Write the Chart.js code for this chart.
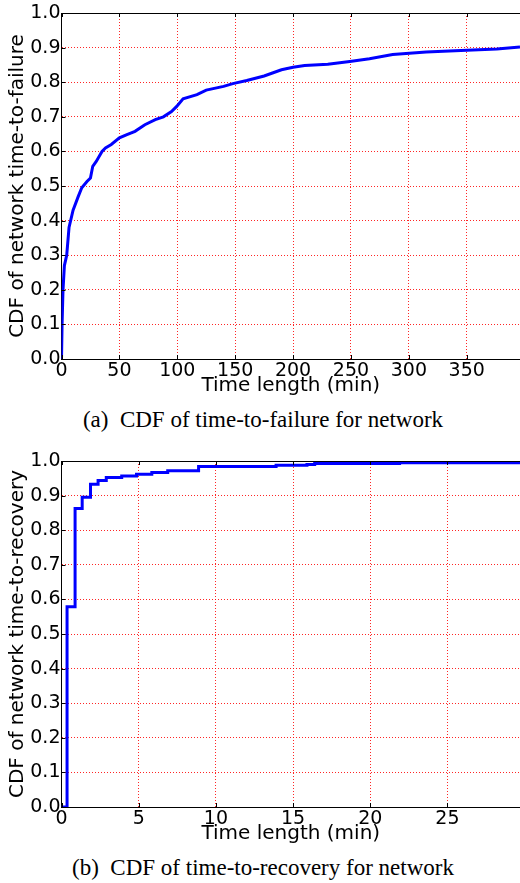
<!DOCTYPE html>
<html>
<head>
<meta charset="utf-8">
<script src="https://cdn.jsdelivr.net/npm/chart.js@4.4.0/dist/chart.umd.min.js"></script>
<style>
  body { margin: 0; background: #fff; width: 520px; height: 883px; position: relative; overflow: hidden; }
  .plot { position: absolute; left: 0; }
  .caption { position: absolute; left: 3px; width: 520px; text-align: center;
             font-family: "Liberation Serif", "Times New Roman", serif; font-size: 23px; line-height: 26px; color: #000; }
</style>
</head>
<body>
<canvas id="failure" class="plot" width="520" height="400" style="top:0px"></canvas>
<div class="caption" style="top:407px">(a)&nbsp; CDF of time-to-failure for network</div>
<canvas id="recovery" class="plot" width="520" height="400" style="top:448px"></canvas>
<div class="caption" style="top:855px">(b)&nbsp; CDF of time-to-recovery for network</div>

<script>
//--------------------- DATA ---------------------//
// (a) time-to-failure, minutes vs CDF
const failTime = [0, 0.5, 1.3, 2.5, 4.5, 6.5, 10, 14.5, 17.5, 22, 25, 27, 30, 35, 38, 43,
                  50, 56, 63.5, 72, 81, 88, 95, 99.5, 105, 117, 125, 140, 148, 160, 175, 190,
                  200, 210, 230, 249, 266, 286, 315, 350, 376, 396];
const failCdf  = [0, 0.10, 0.20, 0.27, 0.30, 0.38, 0.43, 0.47, 0.495, 0.513, 0.523, 0.557, 0.571, 0.60, 0.61, 0.62,
                  0.639, 0.648, 0.658, 0.677, 0.692, 0.70, 0.715, 0.73, 0.752, 0.764, 0.777, 0.788, 0.796, 0.805, 0.818, 0.836,
                  0.843, 0.848, 0.852, 0.860, 0.868, 0.880, 0.887, 0.892, 0.896, 0.902];

// (b) time-to-recovery, minutes vs CDF (step function)
const recTime = [0, 0.36, 0.88, 1.34, 1.88, 2.37, 2.9, 3.9, 4.86, 5.85, 6.88, 8.88, 13.9, 15.9, 16.4, 21.9, 29.7];
const recCdf  = [0, 0.579, 0.863, 0.895, 0.933, 0.944, 0.952, 0.957, 0.962, 0.967, 0.972, 0.984, 0.988, 0.990, 0.993, 0.995, 0.995];

const cdfTicks = [0, 0.1, 0.2, 0.3, 0.4, 0.5, 0.6, 0.7, 0.8, 0.9, 1.0];

//--------------------- HELPERS ---------------------//
const tickFont = { family: '"DejaVu Sans", sans-serif', size: 19 };
const titleFont = { family: '"DejaVu Sans", sans-serif', size: 20 };

// matplotlib-style frame: top edge + small inward tick marks
const frameTicks = {
  id: 'frameTicks',
  afterDatasetsDraw(chart) {
    const { ctx, chartArea: a, scales } = chart;
    ctx.save();
    ctx.strokeStyle = '#000';
    ctx.lineWidth = 1;
    ctx.beginPath();
    ctx.moveTo(a.left, a.top + 0.5);
    ctx.lineTo(a.right, a.top + 0.5);
    scales.x.ticks.forEach(t => {
      const px = Math.round(scales.x.getPixelForValue(t.value)) + 0.5;
      ctx.moveTo(px, a.bottom); ctx.lineTo(px, a.bottom - 4);
      ctx.moveTo(px, a.top); ctx.lineTo(px, a.top + 4);
    });
    scales.y.ticks.forEach(t => {
      const py = Math.round(scales.y.getPixelForValue(t.value)) + 0.5;
      ctx.moveTo(a.left, py); ctx.lineTo(a.left + 4, py);
    });
    ctx.stroke();
    ctx.restore();
  }
};

function drawCdf(canvasId, xs, ys, xMax, xStep, yTitle, stepped) {
  const points = xs.map((x, i) => ({ x: x, y: ys[i] }));
  return new Chart(document.getElementById(canvasId), {
    type: 'line',
    data: {
      datasets: [{
        data: points,
        borderColor: '#0000ff',
        borderWidth: 3,
        pointRadius: 0,
        tension: 0,
        stepped: stepped,
        fill: false
      }]
    },
    options: {
      responsive: false,
      animation: false,
      layout: { padding: { top: 13, right: 0, left: 0, bottom: 0 } },
      plugins: { legend: { display: false }, tooltip: { enabled: false } },
      scales: {
        x: {
          type: 'linear', min: 0, max: xMax,
          ticks: { stepSize: xStep, includeBounds: false, autoSkip: false, maxRotation: 0,
                   font: tickFont, color: '#000', padding: 1,
                   callback: v => String(v) },
          grid: { color: 'rgba(255,0,0,0.85)', lineWidth: 1, drawTicks: false },
          border: { color: '#000', width: 1, dash: [1, 2] },
          title: { display: true, text: 'Time length (min)', font: titleFont, color: '#000',
                   padding: { top: 0, bottom: 2 } },
          afterFit(scale) { scale.height = 41; }
        },
        y: {
          type: 'linear', min: 0, max: 1,
          afterBuildTicks(scale) { scale.ticks = cdfTicks.map(v => ({ value: v })); },
          ticks: { font: tickFont, color: '#000', padding: 1, callback: v => v.toFixed(1) },
          grid: { color: 'rgba(255,0,0,0.85)', lineWidth: 1, drawTicks: false },
          border: { color: '#000', width: 1, dash: [1, 2] },
          title: { display: true, text: yTitle, font: titleFont, color: '#000',
                   padding: { top: 6, bottom: 0 } },
          afterFit(scale) { scale.width = 61.5; }
        }
      }
    },
    plugins: [frameTicks]
  });
}

//--------------------- CHARTS ---------------------//
drawCdf('failure', failTime, failCdf, 396, 50, 'CDF of network time-to-failure', false);
drawCdf('recovery', recTime, recCdf, 29.7, 5, 'CDF of network time-to-recovery', true);
</script>
</body>
</html>
